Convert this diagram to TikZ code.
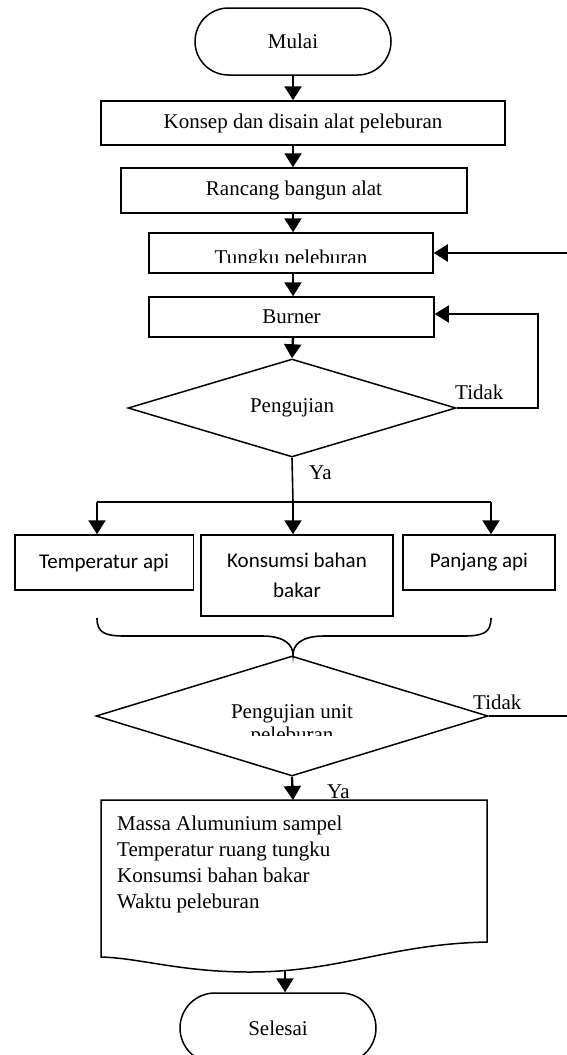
\documentclass[tikz,border=0pt]{standalone}
\usepackage{fontspec}
\setmainfont{Liberation Serif}
\setsansfont{Carlito}
\usetikzlibrary{shapes.geometric,shapes.misc,arrows.meta}

\tikzset{
  box/.style={draw, line width=1.5pt, inner sep=0pt, align=center},
  sansbox/.style={box, font=\fontsize{21}{30}\selectfont\sffamily},
  term/.style={draw, rounded rectangle, line width=1.5pt, inner sep=0pt, minimum width=196pt},
  decision/.style={draw, diamond, line width=1.5pt, inner sep=0pt, shape aspect=3},
  flow/.style={line width=2.3pt, -{Triangle[length=14pt,width=17pt]}},
  link/.style={line width=1.6pt},
  lbl/.style={inner sep=0pt, anchor=west}
}

\begin{document}
\begin{tikzpicture}[x=1pt, y=-1pt, font=\fontsize{21}{26}\selectfont]
\useasboundingbox (0,0) rectangle (567,1055);

\node [term, minimum height=67pt] (mulai) at (293,41.5) {Mulai};
\node [box, minimum width=404pt, minimum height=44pt] (konsep) at (303,123) {Konsep dan disain alat peleburan};
\node [box, minimum width=346pt, minimum height=45pt] (rancang) at (294,190.5) {Rancang bangun alat};
\node [box, minimum width=284pt, minimum height=40pt] (tungku) at (291,253) {};
\begin{scope}
\clip (149,233) rectangle (433,262);
\node [anchor=base, inner sep=0pt] (tungkutxt) at (291,264) {Tungku peleburan};
\end{scope}
\node [box, minimum width=285pt, minimum height=40pt] (burner) at (291.5,317) {Burner};
\node [decision, minimum width=328pt, minimum height=98pt] (uji1) at (292,408) {Pengujian};

\node [sansbox, minimum width=178.5pt, minimum height=55pt] (temp) at (104,562.5) {Temperatur api};
\node [sansbox, minimum width=192pt, minimum height=81pt] (kons) at (297,575.5) {Konsumsi bahan\\bakar};
\node [sansbox, minimum width=152pt, minimum height=55pt] (panjang) at (479,562.5) {Panjang api};

\node [decision, minimum width=392pt, minimum height=120pt] (uji2) at (292,716) {};
\begin{scope}
\clip (150,690) rectangle (440,735);
\node [anchor=north, inner sep=0pt, align=center, font=\fontsize{21}{23}\selectfont] (uji2txt) at (292,704.7) {Pengujian unit\\peleburan};
\end{scope}

\draw [line width=1.5pt] (101,800) -- (487,800) -- (487,942) .. controls (390,944) and (340,972) .. (250,972) .. controls (180,972) and (140,958) .. (101,957) -- cycle;
\node [anchor=north west, inner sep=0pt, align=left] (hasil) at (117,815.7) {Massa Alumunium sampel\\Temperatur ruang tungku\\Konsumsi bahan bakar\\Waktu peleburan};
\coordinate (doctop) at (293,800);
\coordinate (docbot) at (285,970);

\node [term, minimum height=70pt] (selesai) at (278,1028) {Selesai};

\node [lbl] (ya1) at (309,473) {Ya};
\node [lbl] (tidak1) at (455,392) {Tidak};
\node [lbl] (tidak2) at (473,702) {Tidak};
\node [lbl] (ya2) at (327,792) {Ya};

\coordinate (masuk) at (567,253);
\coordinate (balik) at (538,314);
\coordinate (cabang) at (293,502);
\coordinate (kiri) at (97,502);
\coordinate (kanan) at (491,502);
\coordinate (keluar) at (567,716);

\draw [flow] (mulai.south) -- (mulai.south |- konsep.north);
\draw [flow] (konsep.south -| mulai) -- (rancang.north -| mulai);
\draw [flow] (rancang.south -| mulai) -- (tungku.north -| mulai);
\draw [flow] (tungku.south -| mulai) -- (burner.north -| mulai);
\draw [flow] (burner.south -| mulai) -- (uji1.north);
\draw [flow] (masuk) -- (tungku.east);
\draw [flow, line width=1.6pt] (uji1.east) -| (balik) -- (balik -| burner.east);

\draw [link] (uji1.south) -- (cabang);
\draw [link] (kiri) -- (kanan);
\draw [flow] (cabang) -- (cabang |- kons.north);
\draw [flow] (kiri) -- (kiri |- temp.north);
\draw [flow] (kanan) -- (kanan |- panjang.north);

\draw [link] (97,618) .. controls (97,633) and (105,636) .. (125,636) -- (262,636) .. controls (285,636) and (293,645) .. (293,655) .. controls (293,645) and (301,636) .. (324,636) -- (463,636) .. controls (483,636) and (491,633) .. (491,618);

\draw [link] (uji2.east) -- (keluar);
\draw [flow] (uji2.south) -- (doctop);
\draw [flow] (docbot) -- (docbot |- selesai.north);

\end{tikzpicture}
\end{document}
